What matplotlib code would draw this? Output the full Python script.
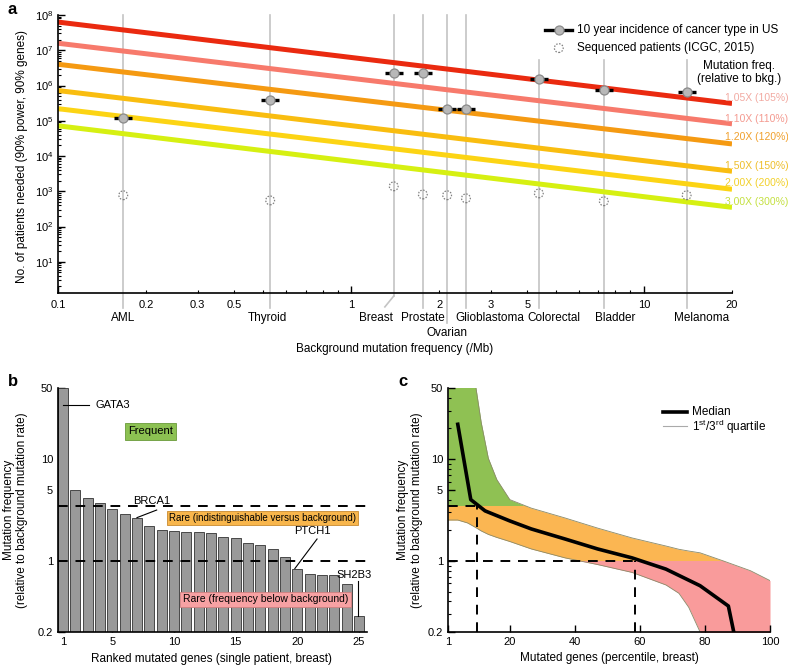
import numpy as np
import matplotlib
matplotlib.use('Agg')
import matplotlib.pyplot as plt
import matplotlib.transforms as mtransforms
from matplotlib.patches import Rectangle
from matplotlib.ticker import FixedLocator, FixedFormatter, NullFormatter, LogLocator

plt.rcParams['font.family'] = ['Liberation Sans', 'DejaVu Sans']
plt.rcParams['mathtext.fontset'] = 'custom'
plt.rcParams['mathtext.rm'] = 'Liberation Sans'
plt.rcParams['mathtext.it'] = 'Liberation Sans:italic'
plt.rcParams['font.size'] = 8

# ---- panel a data ----
freq_labels = ['1.05X (105%)', '1.10X (110%)', '1.20X (120%)',
               '1.50X (150%)', '2.00X (200%)', '3.00X (300%)']
line_colors = ['#ea2a10', '#f77a6c', '#f59a12', '#f9bd10', '#fcd414', '#d6f012']
label_colors = ['#f2aaa2', '#f49a90', '#f0a02c', '#eebe2a', '#f2d02a', '#c4e040']
n_at_low = [6.3e7, 1.58e7, 4.0e6, 7.2e5, 2.2e5, 7.2e4]      # at 0.1 /Mb
n_at_high = [3.1e5, 8.2e4, 2.2e4, 3.7e3, 1.14e3, 3.5e2]     # at 20 /Mb
x_range = [0.1, 20]

cancers = ['AML', 'Thyroid', 'Breast', 'Prostate', 'Ovarian',
           'Glioblastoma', 'Colorectal', 'Bladder', 'Melanoma']
bg_rate = [0.167, 0.53, 1.40, 1.76, 2.13, 2.47, 4.38, 7.3, 14.0]
incidence = [1.2e5, 4.0e5, 2.2e6, 2.2e6, 2.2e5, 2.2e5, 1.58e6, 7.4e5, 6.6e5]
sequenced = [770, 550, 1380, 810, 770, 630, 870, 520, 770]

# ---- panel b data ----
rank = list(range(1, 26))
gene_freq = [50, 4.93, 4.12, 3.72, 3.21, 2.87, 2.66, 2.19, 2.01, 1.97, 1.92,
             1.91, 1.87, 1.72, 1.68, 1.50, 1.43, 1.32, 1.09, 0.84, 0.75,
             0.73, 0.72, 0.59, 0.29]

# ---- panel c data ----
pct = [1, 4, 7, 9.6, 11.2, 13.4, 16, 20, 26.6, 37, 47, 57.6, 68, 72, 75,
       78.5, 85.6, 94, 100]
q3 = [100, 100, 100, 50, 23, 10.2, 6.3, 4.0, 3.3, 2.64, 2.1, 1.68, 1.4,
      1.3, 1.25, 1.2, 1.0, 0.8, 0.64]
q1 = [2.52, 2.52, 2.36, 2.12, 1.97, 1.82, 1.70, 1.55, 1.31, 1.07, 0.92,
      0.77, 0.58, 0.48, 0.35, 0.2, 0.1, 0.1, 0.1]
med_pct = [4, 8, 12.4, 20, 26.6, 37, 47, 57.6, 68, 78.5, 87.2, 89]
med = [22, 4.0, 3.1, 2.47, 2.06, 1.64, 1.31, 1.07, 0.83, 0.57, 0.36, 0.19]

W, H = 788, 666
fig = plt.figure(figsize=(W / 100, H / 100), dpi=100)


def px_axes(l, t, r, b):
    return fig.add_axes([l / W, 1 - b / H, (r - l) / W, (b - t) / H])


def style(ax):
    for s in ['top', 'right']:
        ax.spines[s].set_visible(False)
    for s in ['left', 'bottom']:
        ax.spines[s].set_linewidth(1.2)
    ax.tick_params(which='both', direction='in', labelsize=8)
    ax.tick_params(which='major', length=5, width=1)
    ax.tick_params(which='minor', length=2.5, width=0.8)


# ================= panel a =================
ax = px_axes(58, 15, 732, 293)
ax.set_xscale('log')
ax.set_yscale('log')
ax.set_xlim(0.1, 20)
ax.set_ylim(1.3, 1e8)
style(ax)

trans = mtransforms.blended_transform_factory(ax.transData, ax.transAxes)
top_frac = [1, 1, 1, 1, 1, 1, 0.838, 0.838, 0.838]
bot_frac = [-0.054, -0.054, -0.011, -0.054, -0.108, -0.054, -0.054, -0.054, -0.054]
label_x = [0.167, 0.52, 1.22, 1.76, 2.13, 2.98, 4.93, 7.96, 15.8]
label_y = [-0.09, -0.09, -0.09, -0.09, -0.144, -0.09, -0.09, -0.09, -0.09]
for i, c in enumerate(cancers):
    ax.plot([bg_rate[i], bg_rate[i]], [top_frac[i], bot_frac[i]], transform=trans,
            color='#c4c4c4', lw=1.2, clip_on=False, zorder=1)
    ax.text(label_x[i], label_y[i], c, transform=trans, ha='center', va='center',
            fontsize=8.5)
# breast leader kink
ax.plot([bg_rate[2], 1.306], [-0.011, -0.05], transform=trans, color='#c4c4c4',
        lw=1.2, clip_on=False, zorder=1)

for i in range(len(freq_labels)):
    ax.plot(x_range, [n_at_low[i], n_at_high[i]], color=line_colors[i], lw=3.6,
            solid_capstyle='butt', zorder=2)

ax.plot(bg_rate, incidence, ls='none', marker='_', ms=12.5, mew=2.4,
        color='black', zorder=4)
ax.plot(bg_rate, incidence, ls='none', marker='o', ms=6.5, mfc='#b8b8b8',
        mec='#8a8a8a', mew=0.9, zorder=5)
ax.scatter(bg_rate, sequenced, s=40, facecolors='none', edgecolors='#808080',
           linewidths=0.9, linestyles=(0, (1.2, 1.2)), zorder=4)

# legend
ax.plot([0.7226, 0.7626], [0.946, 0.946], transform=ax.transAxes, color='black',
        lw=2.4, clip_on=False)
ax.plot([0.743], [0.946], transform=ax.transAxes, marker='o', ms=6.5,
        mfc='#b8b8b8', mec='#8a8a8a', mew=0.9, clip_on=False)
ax.scatter([0.743], [0.881], transform=ax.transAxes, s=40, facecolors='none',
           edgecolors='#808080', linewidths=0.9, linestyles=(0, (1.2, 1.2)),
           clip_on=False)
ax.text(0.770, 0.946, '10 year incidence of cancer type in US', transform=ax.transAxes,
        va='center', fontsize=8.5)
ax.text(0.770, 0.881, 'Sequenced patients (ICGC, 2015)', transform=ax.transAxes,
        va='center', fontsize=8.5)
ax.text(1.010, 0.792, 'Mutation freq.\n(relative to bkg.)', transform=ax.transAxes,
        ha='center', va='center', fontsize=8.5, linespacing=1.15)
lab_y = [0.701, 0.626, 0.561, 0.457, 0.396, 0.327]
for i, t in enumerate(freq_labels):
    ax.text(0.99, lab_y[i], t, transform=ax.transAxes, va='center',
            color=label_colors[i], fontsize=7.5, clip_on=False)

ax.yaxis.set_major_locator(FixedLocator([10.0 ** k for k in range(1, 9)]))
ax.yaxis.set_minor_locator(LogLocator(base=10, subs=np.arange(2, 10), numticks=20))
ax.yaxis.set_minor_formatter(NullFormatter())
ax.xaxis.set_major_locator(FixedLocator([0.1, 1, 10]))
ax.xaxis.set_major_formatter(FixedFormatter(['0.1', '1', '10']))
minor_x = [0.2, 0.3, 0.4, 0.5, 0.6, 0.7, 0.8, 0.9, 2, 3, 4, 5, 6, 7, 8, 9, 20]
minor_lab = ['0.2', '0.3', '0.5', '', '', '', '', '', '2', '3', '5', '', '', '', '', '', '20']
ax.xaxis.set_minor_locator(FixedLocator(minor_x))
ax.xaxis.set_minor_formatter(FixedFormatter(minor_lab))
ax.tick_params(axis='x', which='both', pad=5)

fig.text(22 / W, 1 - 156 / H, 'No. of patients needed (90% power, 90% genes)',
         rotation=90, ha='center', va='center', fontsize=8.5)
fig.text(395 / W, 1 - 349 / H, 'Background mutation frequency (/Mb)',
         ha='center', va='center', fontsize=8.5)

# ================= panel b =================
bx = px_axes(58, 388, 367, 632)
bx.set_yscale('log')
bx.bar(rank, gene_freq, width=0.8, color='#999999', edgecolor='#333333', lw=0.6,
       zorder=2)
bx.set_xlim(0.6, 25.65)
bx.set_ylim(0.2, 50)
style(bx)
bx.axhline(1, color='black', lw=1.4, ls=(0, (5, 4)), zorder=3)
bx.axhline(3.5, color='black', lw=1.4, ls=(0, (5, 4)), zorder=3)
bx.set_xticks([1, 5, 10, 15, 20, 25])
bx.yaxis.set_major_locator(FixedLocator([0.2, 1, 5, 10, 50]))
bx.yaxis.set_major_formatter(FixedFormatter(['0.2', '1', '5', '10', '50']))
bx.yaxis.set_minor_locator(LogLocator(base=10, subs=np.arange(2, 10), numticks=20))
bx.yaxis.set_minor_formatter(NullFormatter())

bx.plot([1, 3.1], [33.8, 33.8], color='black', lw=0.8, zorder=4)
bx.text(3.6, 33.8, 'GATA3', va='center', fontsize=8)
bx.plot([7.0, 8.6], [2.66, 3.16], color='black', lw=0.8, zorder=4)
bx.text(6.7, 3.5, 'BRCA1', va='bottom', fontsize=8)
bx.plot([19.8, 21.6], [0.84, 1.64], color='black', lw=0.8, zorder=4)
bx.text(21.2, 1.98, 'PTCH1', ha='center', va='center', fontsize=8)
bx.plot([24.9, 24.9], [0.64, 0.29], color='black', lw=0.8, zorder=4)
bx.text(24.6, 0.73, 'SH2B3', ha='center', va='center', fontsize=8)

bx.text(8.1, 18.8, 'Frequent', ha='center', va='center', fontsize=8, zorder=5,
        bbox=dict(boxstyle='square,pad=0.3', fc='#8cc152', ec='#6a9a3a', lw=0.6))
bx.text(17.2, 2.62, 'Rare (indistinguishable versus background)', ha='center',
        va='center', fontsize=7, zorder=5,
        bbox=dict(boxstyle='square,pad=0.2', fc='#f8b64c', ec='#c88a30', lw=0.6))
bx.text(17.4, 0.42, 'Rare (frequency below background)', ha='center',
        va='center', fontsize=7.5, zorder=5,
        bbox=dict(boxstyle='square,pad=0.25', fc='#f7a1a3', ec='#d08080', lw=0.6))

fig.text(15.5 / W, 1 - 510 / H, 'Mutation frequency\n(relative to background mutation rate)',
         rotation=90, ha='center', va='center', fontsize=8.5, multialignment='center')
fig.text(212 / W, 1 - 659 / H, 'Ranked mutated genes (single patient, breast)',
         ha='center', va='center', fontsize=8.5)

# ================= panel c =================
cx = px_axes(448, 388, 770, 632)
cx.set_yscale('log')
cx.set_xlim(1, 100)
cx.set_ylim(0.2, 50)
style(cx)

bands = [(3.5, 50, '#8fc153'), (1, 3.5, '#fbb652'), (0.2, 1, '#f99b9b')]
for lo, hi, col in bands:
    poly = cx.fill_between(pct, q1, q3, color=col, lw=0, zorder=1)
    rect = Rectangle((1, lo), 99, hi - lo, transform=cx.transData)
    poly.set_clip_path(rect)
cx.plot(pct, q3, color='#8a8a6a', lw=0.6, zorder=2)
cx.plot(pct, q1, color='#8a8a6a', lw=0.6, zorder=2)

dash = (0, (5, 4))
cx.plot([1, 10], [3.5, 3.5], color='black', lw=1.4, ls=dash, zorder=3)
cx.plot([10, 10], [0.2, 3.5], color='black', lw=1.4, ls=dash, zorder=3)
cx.plot([1, 58.5], [1, 1], color='black', lw=1.4, ls=dash, zorder=3)
cx.plot([58.5, 58.5], [0.2, 1], color='black', lw=1.4, ls=dash, zorder=3)
cx.plot(med_pct, med, color='black', lw=2.6, zorder=4)

cx.plot([0.668, 0.742], [0.902, 0.902], transform=cx.transAxes, color='black', lw=2.6)
cx.plot([0.668, 0.742], [0.845, 0.845], transform=cx.transAxes, color='#aaaaaa', lw=0.8)
cx.text(0.758, 0.902, 'Median', transform=cx.transAxes, va='center', fontsize=8.5)
cx.text(0.758, 0.842, r'1$^{\rm st}$/3$^{\rm rd}$ quartile', transform=cx.transAxes,
        va='center', fontsize=8.5)

cx.set_xticks([1, 20, 40, 60, 80, 100])
cx.yaxis.set_major_locator(FixedLocator([0.2, 1, 5, 10, 50]))
cx.yaxis.set_major_formatter(FixedFormatter(['0.2', '1', '5', '10', '50']))
cx.yaxis.set_minor_locator(LogLocator(base=10, subs=np.arange(2, 10), numticks=20))
cx.yaxis.set_minor_formatter(NullFormatter())

fig.text(410 / W, 1 - 510 / H, 'Mutation frequency\n(relative to background mutation rate)',
         rotation=90, ha='center', va='center', fontsize=8.5, multialignment='center')
fig.text(609 / W, 1 - 658 / H, 'Mutated genes (percentile, breast)',
         ha='center', va='center', fontsize=8.5)

# panel letters
fig.text(8 / W, 1 - 10 / H, 'a', fontsize=12, fontweight='bold', va='center')
fig.text(8 / W, 1 - 381 / H, 'b', fontsize=12, fontweight='bold', va='center')
fig.text(398 / W, 1 - 381 / H, 'c', fontsize=12, fontweight='bold', va='center')

fig.savefig('out.png', dpi=100)
